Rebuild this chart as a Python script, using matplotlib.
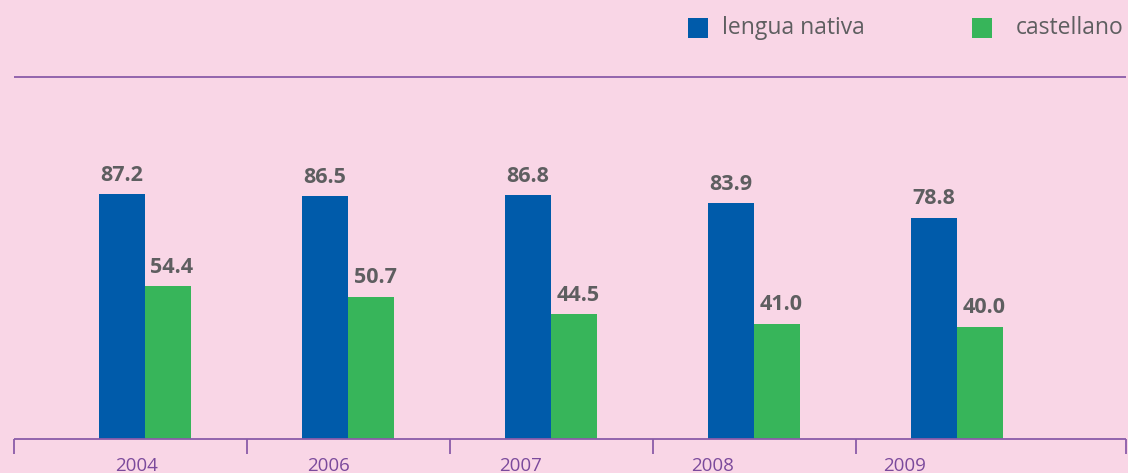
import matplotlib
matplotlib.use("Agg")
import matplotlib.pyplot as plt
from matplotlib.patches import Rectangle
import numpy as np

years = ["2004", "2006", "2007", "2008", "2009"]
lengua_nativa = [87.2, 86.5, 86.8, 83.9, 78.8]
castellano = [54.4, 50.7, 44.5, 41.0, 40.0]
series_names = ["lengua nativa", "castellano"]

BG = "#f9d6e6"
BLUE = "#005baa"
GREEN = "#37b55a"
PURPLE = "#8b5ca8"
TXT = "#5e5e60"
FONT = ["Open Sans", "DejaVu Sans"]

W, H = 1128, 473
fig = plt.figure(figsize=(W / 100, H / 100), dpi=100, facecolor=BG)
ax = fig.add_axes([0, 0, 1, 1])
ax.set_facecolor(BG)

pxu = 203.0          # px per category
base_px = 34.0       # baseline from bottom, px
scale = 2.81         # px per value unit
ax.set_xlim(-145 / pxu, (W - 145) / pxu)
ax.set_ylim(-base_px / scale, (H - base_px) / scale)
ax.axis("off")

x = np.arange(len(years))
bw = 46 / pxu
ax.bar(x - bw / 2, lengua_nativa, width=bw, color=BLUE, zorder=2)
ax.bar(x + bw / 2, castellano, width=bw, color=GREEN, zorder=2)

for xi, v in zip(x, lengua_nativa):
    ax.text(xi - bw / 2, v + 3.0, f"{v:.1f}", ha="center", va="bottom",
            fontsize=15.5, fontweight="bold", color=TXT, family=FONT)
for xi, v in zip(x, castellano):
    ax.text(xi + bw / 2 + 0.02, v + 3.0, f"{v:.1f}", ha="center", va="bottom",
            fontsize=15.5, fontweight="bold", color=TXT, family=FONT)

# axis line and dividers
x0 = (14 - 145) / pxu
x1 = (1126 - 145) / pxu
ax.plot([x0, x1], [0, 0], color=PURPLE, lw=1.3, zorder=3, solid_capstyle="butt")
divs = [x0] + [i + 0.5 for i in range(len(years) - 1)] + [x1]
ax.vlines(divs, -15 / scale, 0, color=PURPLE, lw=1.3, zorder=3)

# year labels
for i, y in enumerate(years):
    xl = (137 + i * 192 - 145) / pxu
    ax.text(xl, -27 / scale, y, ha="center", va="center", fontsize=13.5,
            color="#7b4a9c", family=FONT)

# top rule
ax.plot([x0, x1], [(H - 77 - base_px) / scale] * 2, color=PURPLE, lw=1.3,
        solid_capstyle="butt")

# legend (manual, figure pixel coords)
legend_items = [(688, 722, BLUE), (972, 1016, GREEN)]
for (sx, tx, col), name in zip(legend_items, series_names):
    fig.patches.append(Rectangle((sx / W, 1 - 38 / H), 20 / W, 20 / H,
                                 transform=fig.transFigure, facecolor=col,
                                 edgecolor="none"))
    fig.text(tx / W, 1 - 28 / H, name, ha="left", va="center", fontsize=16.5,
             color=TXT, family=FONT)

fig.savefig("out.png", dpi=100, facecolor=BG)
